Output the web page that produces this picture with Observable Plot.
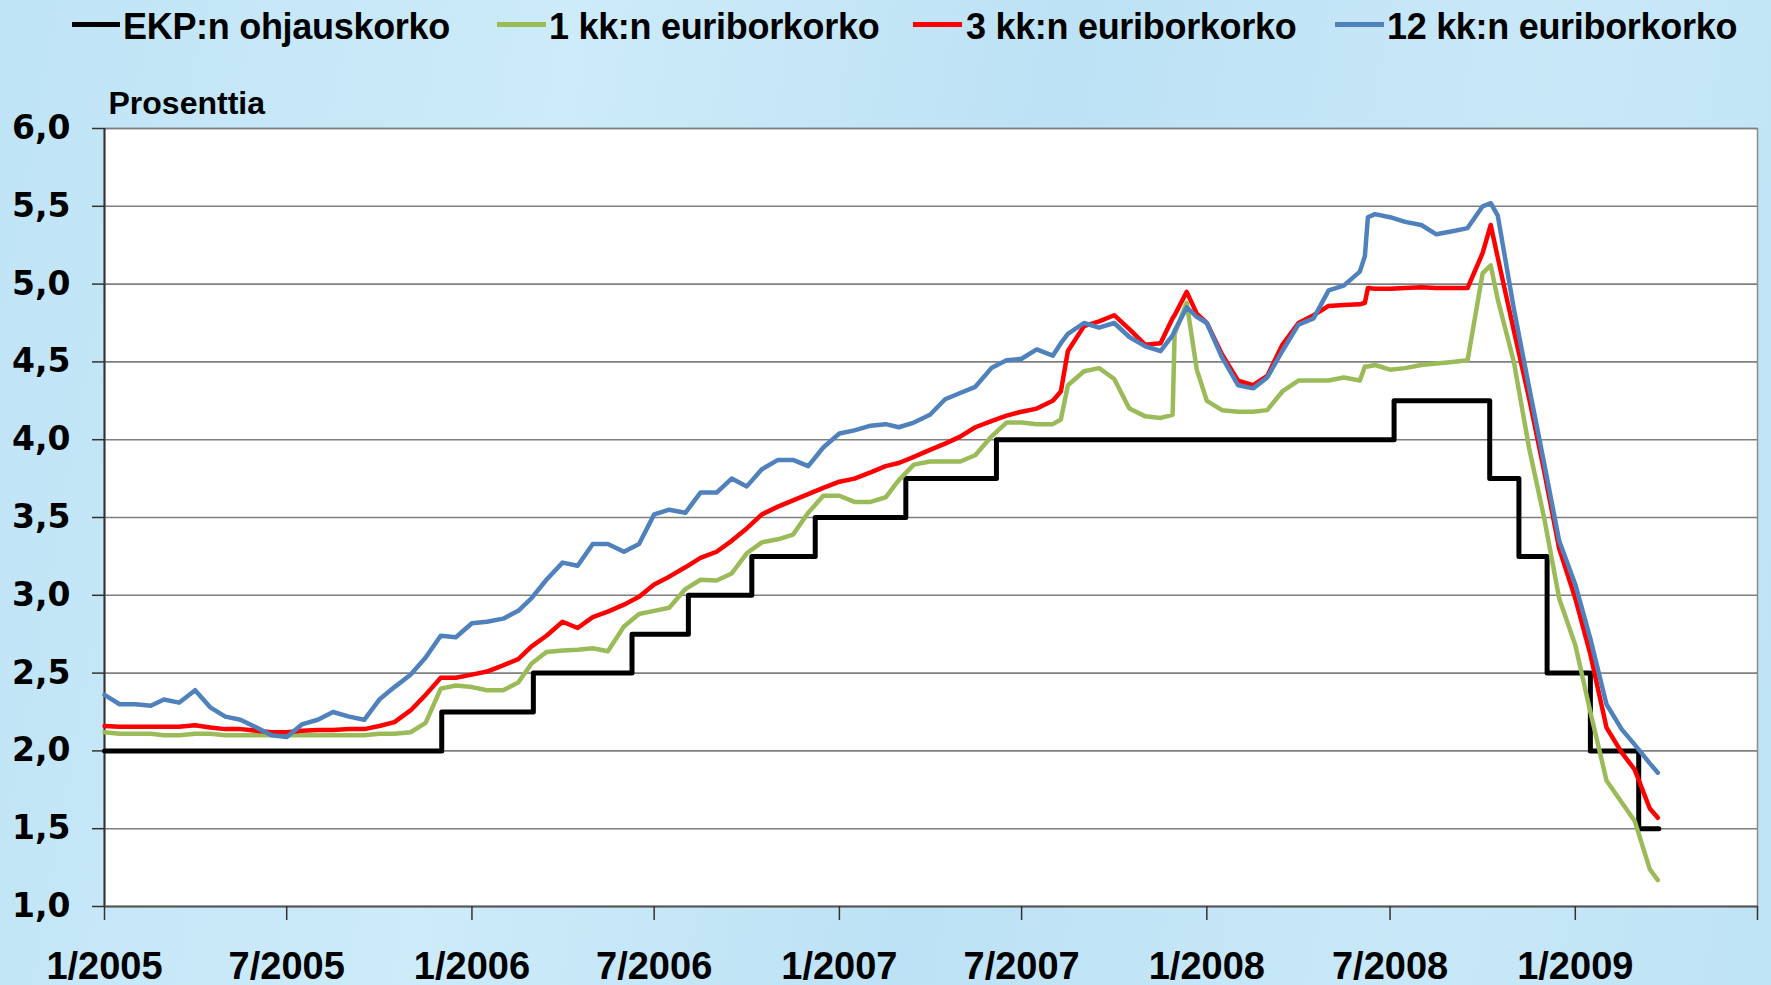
<!DOCTYPE html>
<html>
<head>
<meta charset="utf-8">
<script src="https://cdn.jsdelivr.net/npm/d3@7"></script>
<script src="https://cdn.jsdelivr.net/npm/@observablehq/plot@0.6"></script>
<style>
html, body { margin: 0; padding: 0; }
body {
  width: 1771px; height: 985px; overflow: hidden;
  background: linear-gradient(100deg, #bfe4f6 0%, #cdebf9 30%, #bde2f5 55%, #c8e8f8 80%, #bfe4f6 100%);
  font-family: "Liberation Sans", Arial, sans-serif;
}
#legend { position: relative; height: 78px; }
#legend .sw { position: absolute; height: 5px; top: 21.5px; }
#legend .lb { position: absolute; top: 9px; font-size: 36px; line-height: 36px; font-weight: bold; color: #000; white-space: nowrap; letter-spacing: -0.3px; }
#chart svg [aria-label="y-axis tick label"] { font-family: "DejaVu Sans", sans-serif; font-weight: bold; }
#chart svg [aria-label="x-axis tick label"] { font-family: "Liberation Sans", Arial, sans-serif; font-weight: bold; }
</style>
</head>
<body>
<div id="legend"></div>
<div id="chart"></div>
<script>
// ---------- data ----------
const seriesNames = ["EKP:n ohjauskorko", "1 kk:n euriborkorko", "3 kk:n euriborkorko", "12 kk:n euriborkorko"];

const ecbDates = ["2005-01-01","2005-12-02","2006-03-03","2006-06-09","2006-08-04","2006-10-06","2006-12-08",
  "2007-03-08","2007-06-06","2008-07-05","2008-10-08","2008-11-06","2008-12-04","2009-01-16","2009-03-05","2009-03-25"];
const ecbRates = [2.00,2.25,2.50,2.75,3.00,3.25,3.50,3.75,4.00,4.25,3.75,3.25,2.50,2.00,1.50,1.50];

const dates = [
  "2005-01-01","2005-01-16","2005-02-01","2005-02-16","2005-03-01","2005-03-16","2005-04-01","2005-04-16","2005-05-01","2005-05-16",
  "2005-06-01","2005-06-16","2005-07-01","2005-07-16","2005-08-01","2005-08-16","2005-09-01","2005-09-16","2005-10-01","2005-10-16",
  "2005-11-01","2005-11-16","2005-12-01","2005-12-16","2006-01-01","2006-01-16","2006-02-01","2006-02-16","2006-03-01","2006-03-16",
  "2006-04-01","2006-04-16","2006-05-01","2006-05-16","2006-06-01","2006-06-16","2006-07-01","2006-07-16","2006-08-01","2006-08-16",
  "2006-09-01","2006-09-16","2006-10-01","2006-10-16","2006-11-01","2006-11-16","2006-12-01","2006-12-16","2007-01-01","2007-01-16",
  "2007-02-01","2007-02-16","2007-03-01","2007-03-16","2007-04-01","2007-04-16","2007-05-01","2007-05-16","2007-06-01","2007-06-16",
  "2007-07-01","2007-07-16","2007-08-01","2007-08-09","2007-08-16","2007-09-01","2007-09-16","2007-10-01","2007-10-16","2007-11-01",
  "2007-11-16","2007-11-28","2007-11-30","2007-12-12","2007-12-22","2008-01-01","2008-01-16","2008-02-01","2008-02-16","2008-03-01",
  "2008-03-16","2008-04-01","2008-04-16","2008-05-01","2008-05-16","2008-06-01","2008-06-06","2008-06-09","2008-06-16","2008-07-01",
  "2008-07-16","2008-08-01","2008-08-16","2008-09-01","2008-09-16","2008-10-01","2008-10-09","2008-10-16","2008-11-01","2008-11-16",
  "2008-12-01","2008-12-16","2009-01-01","2009-01-16","2009-02-01","2009-02-16","2009-03-01","2009-03-16","2009-03-24"
];

const euribor1m = [
  2.12,2.11,2.11,2.11,2.10,2.10,2.11,2.11,2.10,2.10,
  2.10,2.10,2.10,2.10,2.10,2.10,2.10,2.10,2.11,2.11,
  2.12,2.18,2.40,2.42,2.41,2.39,2.39,2.44,2.56,2.635,
  2.645,2.65,2.66,2.64,2.80,2.88,2.90,2.92,3.04,3.10,
  3.095,3.14,3.27,3.34,3.36,3.39,3.53,3.64,3.64,3.60,
  3.60,3.63,3.74,3.84,3.86,3.86,3.86,3.90,4.02,4.11,
  4.11,4.10,4.10,4.13,4.35,4.44,4.46,4.39,4.20,4.15,
  4.14,4.16,4.68,4.88,4.45,4.25,4.19,4.18,4.18,4.19,
  4.31,4.38,4.38,4.38,4.40,4.38,4.47,4.47,4.48,4.45,
  4.46,4.48,4.49,4.50,4.51,5.07,5.12,4.90,4.50,3.95,
  3.50,2.98,2.68,2.25,1.81,1.67,1.55,1.24,1.17
];

const euribor3m = [
  2.16,2.155,2.155,2.155,2.155,2.155,2.165,2.15,2.14,2.14,
  2.13,2.12,2.12,2.13,2.135,2.135,2.14,2.14,2.16,2.185,
  2.26,2.36,2.47,2.47,2.49,2.51,2.55,2.59,2.67,2.74,
  2.83,2.79,2.86,2.895,2.94,2.99,3.07,3.12,3.18,3.24,
  3.28,3.35,3.43,3.52,3.57,3.61,3.65,3.69,3.73,3.75,
  3.79,3.83,3.85,3.89,3.935,3.975,4.02,4.08,4.12,4.155,
  4.18,4.20,4.25,4.31,4.57,4.73,4.76,4.80,4.71,4.61,
  4.62,4.78,4.80,4.95,4.81,4.75,4.55,4.38,4.35,4.41,
  4.61,4.75,4.80,4.86,4.865,4.87,4.88,4.975,4.97,4.97,
  4.975,4.98,4.975,4.975,4.975,5.20,5.38,5.17,4.70,4.27,
  3.80,3.30,2.98,2.62,2.15,1.99,1.88,1.63,1.57
];

const euribor12m = [
  2.36,2.30,2.30,2.29,2.33,2.31,2.39,2.28,2.22,2.20,
  2.15,2.10,2.09,2.17,2.20,2.25,2.22,2.20,2.33,2.41,
  2.49,2.60,2.74,2.73,2.82,2.83,2.85,2.90,2.98,3.10,
  3.21,3.19,3.33,3.33,3.28,3.33,3.52,3.55,3.53,3.66,
  3.66,3.75,3.70,3.81,3.87,3.87,3.83,3.95,4.04,4.06,
  4.09,4.10,4.08,4.11,4.16,4.26,4.30,4.34,4.46,4.51,
  4.52,4.58,4.54,4.62,4.68,4.75,4.72,4.75,4.66,4.60,
  4.57,4.67,4.70,4.85,4.79,4.75,4.53,4.35,4.33,4.40,
  4.57,4.74,4.78,4.96,4.99,5.08,5.18,5.43,5.45,5.43,
  5.40,5.38,5.32,5.34,5.36,5.50,5.52,5.44,4.84,4.34,
  3.85,3.35,3.07,2.72,2.30,2.14,2.04,1.92,1.86
];

const yTicks = [1.0,1.5,2.0,2.5,3.0,3.5,4.0,4.5,5.0,5.5,6.0];
const xTicks = ["2005-01-01","2005-07-01","2006-01-01","2006-07-01","2007-01-01","2007-07-01",
  "2008-01-01","2008-07-01","2009-01-01","2009-07-01"];
const xTickLabels = ["1/2005","7/2005","1/2006","7/2006","1/2007","7/2007","1/2008","7/2008","1/2009",""];
const yAxisTitle = "Prosenttia";

// ---------- styles / layout ----------
const colors = ["#000000", "#9bbb59", "#ff0000", "#4f81bd"];
const legendLayout = [
  {sw: [72, 120], text: 123},
  {sw: [497, 546], text: 549},
  {sw: [913, 962], text: 966},
  {sw: [1335, 1384], text: 1387}
];

const legend = document.getElementById("legend");
seriesNames.forEach((name, i) => {
  const sw = document.createElement("div");
  sw.className = "sw";
  sw.style.left = legendLayout[i].sw[0] + "px";
  sw.style.width = (legendLayout[i].sw[1] - legendLayout[i].sw[0]) + "px";
  sw.style.background = colors[i];
  legend.appendChild(sw);
  const lb = document.createElement("span");
  lb.className = "lb";
  lb.style.left = legendLayout[i].text + "px";
  lb.textContent = name;
  legend.appendChild(lb);
});

const parse = d3.utcParse("%Y-%m-%d");
const ecbRows = ecbDates.map((d, i) => ({date: parse(d), value: ecbRates[i]}));
const rows = (vals) => dates.map((d, i) => ({date: parse(d), value: vals[i]}));
const xTickDates = xTicks.map(parse);
const labelFor = new Map(xTickDates.map((d, i) => [+d, xTickLabels[i]]));

const chart = Plot.plot({
  width: 1771,
  height: 907,
  marginTop: 50,
  marginBottom: 79,
  marginLeft: 104,
  marginRight: 14,
  style: {background: "transparent", overflow: "visible", color: "#000", fontFamily: "Liberation Sans, Arial, sans-serif"},
  x: {type: "utc", domain: [xTickDates[0], xTickDates[xTickDates.length - 1]]},
  y: {domain: [1, 6]},
  marks: [
    Plot.frame({fill: "white", stroke: "#8c8c8c", strokeWidth: 1.5}),
    Plot.ruleY(yTicks.slice(1), {stroke: "#7f7f7f", strokeWidth: 1.6}),
    Plot.ruleX([xTickDates[0]], {stroke: "#333", strokeWidth: 2}),
    Plot.ruleY([1], {stroke: "#555", strokeWidth: 2}),
    Plot.axisY({ticks: yTicks, tickSize: 12, tickPadding: 22, stroke: "#333", strokeWidth: 1.5,
      tickFormat: d => d.toFixed(1).replace(".", ","), fontSize: 33, label: null}),
    Plot.axisX({ticks: xTickDates, tickSize: 14, tickPadding: 32, stroke: "#333", strokeWidth: 1.5,
      tickFormat: d => labelFor.get(+d) ?? "", fontSize: 38, label: null}),
    Plot.line(ecbRows, {x: "date", y: "value", curve: "step-after", stroke: colors[0], strokeWidth: 5}),
    Plot.line(rows(euribor1m), {x: "date", y: "value", stroke: colors[1], strokeWidth: 4.5}),
    Plot.line(rows(euribor3m), {x: "date", y: "value", stroke: colors[2], strokeWidth: 4.5}),
    Plot.line(rows(euribor12m), {x: "date", y: "value", stroke: colors[3], strokeWidth: 4.5}),
    Plot.text([yAxisTitle], {text: d => d, frameAnchor: "top-left", dx: 4, dy: -15, lineAnchor: "bottom",
      textAnchor: "start", fontSize: 32, fontWeight: "bold"})
  ]
});
document.getElementById("chart").appendChild(chart);
</script>
</body>
</html>
